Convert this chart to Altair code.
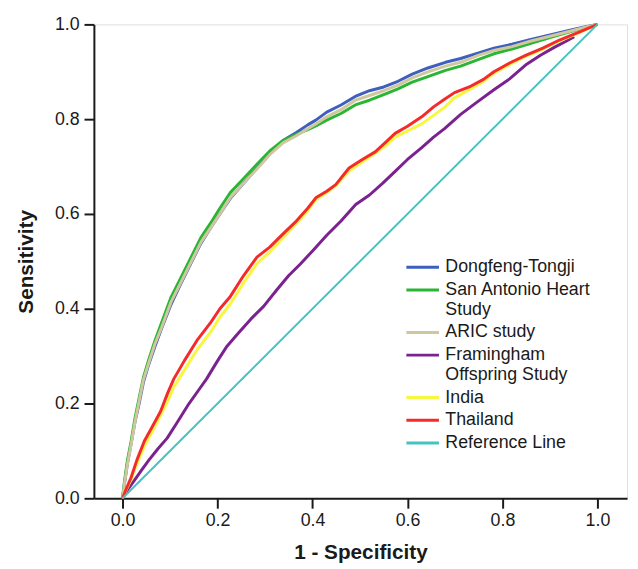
import altair as alt
import pandas as pd

# ---------------- data ----------------
series_names = [
    "Dongfeng-Tongji",
    "San Antonio Heart|Study",
    "ARIC study",
    "Framingham|Offspring Study",
    "India",
    "Thailand",
    "Reference Line",
]
series_colors = ["#3f5fbe", "#2bb534", "#cfc79d", "#7b2190", "#f7f740", "#f52a2a", "#45c3c3"]

upper_fpr = [0, 0.004, 0.010, 0.018, 0.026, 0.035, 0.044, 0.055, 0.068, 0.082, 0.1025, 0.12, 0.14,
             0.165, 0.185, 0.205, 0.227, 0.255, 0.283, 0.31, 0.338, 0.366, 0.39, 0.407, 0.43, 0.46,
             0.49, 0.52, 0.55, 0.58, 0.61, 0.643, 0.68, 0.712, 0.75, 0.782, 0.82, 0.86, 0.90, 0.94,
             0.97, 1.0]
dongfeng_sens = [0, 0.03, 0.072, 0.115, 0.16, 0.2, 0.245, 0.282, 0.32, 0.358, 0.41, 0.447, 0.488,
                 0.538, 0.57, 0.6, 0.633, 0.665, 0.697, 0.728, 0.755, 0.772, 0.788, 0.798, 0.815, 0.83,
                 0.848, 0.86, 0.868, 0.88, 0.895, 0.908, 0.92, 0.928, 0.94, 0.95, 0.958, 0.968, 0.978,
                 0.987, 0.994, 1.0]
san_antonio_sens = [0, 0.035, 0.078, 0.12, 0.168, 0.212, 0.255, 0.292, 0.332, 0.37, 0.425, 0.46, 0.5,
                    0.55, 0.58, 0.612, 0.645, 0.675, 0.705, 0.733, 0.755, 0.768, 0.778, 0.786, 0.798,
                    0.812, 0.83, 0.84, 0.852, 0.864, 0.878, 0.89, 0.903, 0.912, 0.926, 0.938, 0.948,
                    0.96, 0.972, 0.984, 0.992, 1.0]
aric_sens = [0, 0.03, 0.07, 0.113, 0.16, 0.205, 0.25, 0.285, 0.325, 0.36, 0.415, 0.45, 0.49, 0.54,
             0.57, 0.60, 0.635, 0.665, 0.695, 0.725, 0.75, 0.765, 0.78, 0.79, 0.805, 0.82, 0.84, 0.85,
             0.86, 0.872, 0.887, 0.9, 0.912, 0.92, 0.935, 0.945, 0.953, 0.965, 0.975, 0.985, 0.993, 1.0]

framingham_fpr = [0, 0.012, 0.025, 0.039, 0.055, 0.075, 0.094, 0.115, 0.14, 0.16, 0.177, 0.2, 0.22,
                  0.245, 0.27, 0.297, 0.325, 0.35, 0.375, 0.401, 0.43, 0.46, 0.491, 0.52, 0.548, 0.574,
                  0.6, 0.63, 0.655, 0.678, 0.712, 0.745, 0.782, 0.815, 0.851, 0.88, 0.91, 0.935, 0.951]
framingham_sens = [0, 0.02, 0.038, 0.058, 0.08, 0.105, 0.127, 0.16, 0.2, 0.228, 0.252, 0.29, 0.321,
                   0.35, 0.378, 0.405, 0.44, 0.47, 0.495, 0.523, 0.555, 0.585, 0.62, 0.64, 0.665, 0.69,
                   0.715, 0.74, 0.762, 0.78, 0.81, 0.835, 0.862, 0.885, 0.916, 0.935, 0.952, 0.965, 0.974]

asia_fpr = [0, 0.008, 0.018, 0.03, 0.046, 0.062, 0.08, 0.095, 0.108, 0.13, 0.158, 0.185, 0.205, 0.227,
            0.255, 0.283, 0.31, 0.338, 0.366, 0.39, 0.407, 0.43, 0.449, 0.477, 0.505, 0.532, 0.555,
            0.574, 0.6, 0.63, 0.655, 0.678, 0.699, 0.73, 0.76, 0.782, 0.816, 0.85, 0.885, 0.92, 0.96, 1.0]
india_sens = [0, 0.018, 0.04, 0.072, 0.11, 0.14, 0.175, 0.205, 0.235, 0.27, 0.315, 0.35, 0.382, 0.41,
              0.455, 0.495, 0.52, 0.55, 0.58, 0.607, 0.63, 0.645, 0.66, 0.69, 0.71, 0.728, 0.745, 0.762,
              0.775, 0.79, 0.808, 0.825, 0.845, 0.862, 0.88, 0.897, 0.916, 0.933, 0.948, 0.965, 0.982, 1.0]
thailand_sens = [0, 0.02, 0.044, 0.08, 0.121, 0.15, 0.183, 0.222, 0.252, 0.29, 0.335, 0.37, 0.4, 0.426,
                 0.47, 0.509, 0.53, 0.558, 0.585, 0.612, 0.634, 0.648, 0.662, 0.697, 0.715, 0.731, 0.752,
                 0.77, 0.785, 0.805, 0.826, 0.842, 0.856, 0.868, 0.884, 0.9, 0.919, 0.935, 0.95, 0.967,
                 0.983, 1.0]

reference_fpr = [0, 1.0]
reference_sens = [0, 1.0]

tick_values = [0.0, 0.2, 0.4, 0.6, 0.8, 1.0]

# ---------------- table ----------------
curves = [
    (series_names[0], upper_fpr, dongfeng_sens),
    (series_names[1], upper_fpr, san_antonio_sens),
    (series_names[2], upper_fpr, aric_sens),
    (series_names[3], framingham_fpr, framingham_sens),
    (series_names[4], asia_fpr, india_sens),
    (series_names[5], asia_fpr, thailand_sens),
    (series_names[6], reference_fpr, reference_sens),
]
rows = []
for name, xs, ys in curves:
    for i, (a, b) in enumerate(zip(xs, ys)):
        rows.append({"series": name, "fpr": a, "sens": b, "idx": i})
df = pd.DataFrame(rows)

FONT = "Liberation Sans"
INK = "#1a1a1a"

x_enc = alt.X(
    "fpr:Q",
    scale=alt.Scale(domain=[-0.0603, 1.0623], nice=False, zero=False),
    axis=alt.Axis(values=tick_values, format=".1f", grid=False, title="1 - Specificity",
                  domainColor=INK, domainWidth=2, tickColor=INK, tickWidth=2, tickSize=10,
                  labelFont=FONT, labelFontSize=18, labelColor=INK, labelPadding=4,
                  titleFont=FONT, titleFontSize=21, titleFontWeight="bold", titleColor=INK,
                  titlePadding=12),
)
y_enc = alt.Y(
    "sens:Q",
    scale=alt.Scale(domain=[0, 1], nice=False),
    axis=alt.Axis(values=tick_values, format=".1f", grid=False, title="Sensitivity",
                  domainColor=INK, domainWidth=2, tickColor=INK, tickWidth=2, tickSize=10,
                  labelFont=FONT, labelFontSize=18, labelColor=INK, labelPadding=5,
                  titleFont=FONT, titleFontSize=21, titleFontWeight="bold", titleColor=INK,
                  titlePadding=18),
)
color_enc = alt.Color(
    "series:N",
    scale=alt.Scale(domain=series_names, range=series_colors),
    sort=series_names,
    legend=alt.Legend(title=None, orient="none", legendX=323, legendY=236,
                      symbolType="M-2,0H2", symbolSize=272, symbolStrokeWidth=3,
                      labelFont=FONT, labelFontSize=18, labelColor=INK, labelLimit=400,
                      labelExpr="split(datum.label, '|')", labelOffset=13, rowPadding=4,
                      padding=0),
)

layers = []
for name in series_names:
    sw = 2 if name == "Reference Line" else 3
    layers.append(
        alt.Chart(df)
        .transform_filter(alt.datum.series == name)
        .mark_line(strokeWidth=sw, strokeJoin="round")
        .encode(x=x_enc, y=y_enc, color=color_enc, order="idx:Q")
    )

chart = (
    alt.layer(*layers)
    .properties(width=540, height=480, autosize=alt.AutoSizeParams(type="none"),
                padding={"left": 87, "top": 13, "right": 3, "bottom": 68})
    .configure_view(stroke=None)
    .configure(background="white")
)

chart.save("out.html", embed_options={"renderer": "svg", "actions": False})
